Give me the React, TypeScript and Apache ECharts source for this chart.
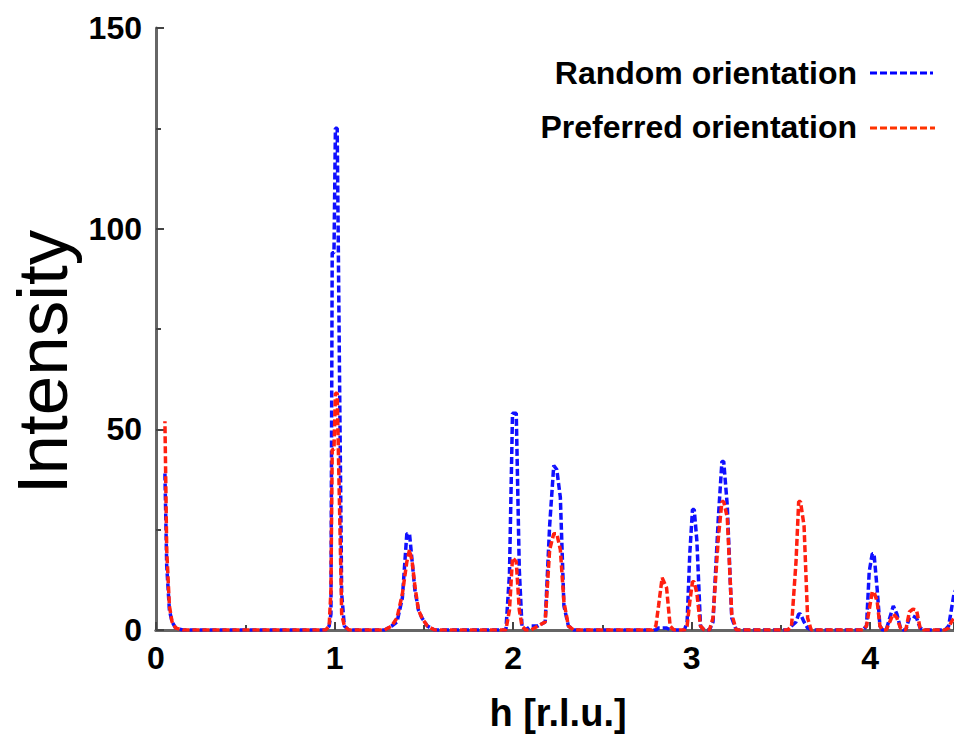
import React, { useEffect, useRef } from "react";
import * as echarts from "echarts";

// h [r.l.u.] sample positions (shared by both series)
const hValues = [
  0.05, 0.06, 0.075, 0.09, 0.11, 0.15,
  0.95, 0.97, 0.98, 0.987, 0.997, 1.005, 1.015, 1.027, 1.04, 1.055, 1.08,
  1.28, 1.32, 1.35, 1.38, 1.405, 1.42, 1.435, 1.45, 1.47, 1.49, 1.52, 1.56,
  1.96, 1.98, 1.997, 2.018, 2.035, 2.05, 2.07, 2.1, 2.14, 2.18, 2.205, 2.228, 2.245, 2.265, 2.285, 2.31, 2.34,
  2.78, 2.8, 2.815, 2.835, 2.86, 2.88, 2.9,
  2.96, 2.975, 2.99, 3.005, 3.015, 3.03, 3.05, 3.07,
  3.1, 3.12, 3.15, 3.17, 3.18, 3.2, 3.225, 3.25,
  3.54, 3.56, 3.585, 3.6, 3.61, 3.63, 3.65, 3.67,
  3.96, 3.98, 3.995, 4.012, 4.022, 4.04, 4.055, 4.07,
  4.09, 4.11, 4.13, 4.15, 4.17, 4.185,
  4.2, 4.22, 4.24, 4.26, 4.28, 4.3,
  4.42, 4.44, 4.455, 4.47, 4.5,
];

const randomIntensity = [
  39, 16, 5, 2, 0.5, 0,
  0, 1, 4, 94, 94, 125, 125, 68, 9, 1, 0,
  0, 1, 2, 8, 24, 24, 17, 10, 5, 3, 1, 0,
  0, 14, 54, 54, 15, 1, 0, 1, 1, 2, 26, 41, 40, 33, 6, 1, 0,
  0, 0, 0.5, 0.5, 0.5, 0, 0,
  0, 2, 19, 30, 30, 22, 1, 0,
  0, 2, 28, 42, 42, 31, 3, 0,
  0, 1, 2, 4, 4, 2, 0.5, 0,
  0, 1, 14.5, 19, 19, 10, 1, 0,
  0, 3, 6, 4, 0.5, 0,
  0, 3, 3.5, 3, 0.5, 0,
  0, 1, 5, 9, 12,
];

const preferredIntensity = [
  52, 20, 6, 2, 0.5, 0,
  0, 1, 10, 45, 45, 59, 59, 33, 4, 1, 0,
  0, 1, 3, 9, 17, 20, 17, 11, 5, 3, 1, 0,
  0, 5, 18, 17, 5, 1, 0, 0, 1, 2, 20, 24, 24, 20, 7, 1, 0,
  0, 1, 6, 13, 10.5, 1, 0,
  0, 1, 7, 12, 12, 9, 1, 0,
  0, 3, 23, 32, 32, 28, 4, 0,
  0, 1, 17, 32, 32, 26, 3, 0,
  0, 1, 5, 9.5, 9.5, 7, 1, 0,
  0, 2, 4, 3, 0.5, 0,
  0, 4.5, 5.2, 5, 0.5, 0,
  0, 0.5, 2, 3, 4,
];

const yTicks = [0, 50, 100, 150];
const xTicks = [0, 1, 2, 3, 4];
const seriesNames = ["Random orientation", "Preferred orientation"];

const FONT = '"Liberation Sans", Arial, sans-serif';

export default function App() {
  const ref = useRef<HTMLDivElement>(null);

  useEffect(() => {
    if (!ref.current) return;
    const chart = echarts.init(ref.current, undefined, { renderer: "svg" });
    const blue = hValues.map((h, i) => [h, randomIntensity[i]]);
    const red = hValues.map((h, i) => [h, preferredIntensity[i]]);
    const axisLineStyle = { color: "#666666", width: 3 };
    chart.setOption({
      animation: false,
      backgroundColor: "#ffffff",
      grid: { left: 156, right: 0, top: 28, bottom: 105, containLabel: false },
      xAxis: [
        {
          type: "value",
          min: xTicks[0],
          max: 4.47,
          interval: 1,
          axisLine: { show: true, onZero: false, lineStyle: axisLineStyle },
          axisTick: { show: true, inside: true, length: 8, lineStyle: { color: "#444", width: 2 } },
          minorTick: { show: true, splitNumber: 2, length: 5, lineStyle: { color: "#444", width: 2 } },
          splitLine: { show: false },
          axisLabel: {
            showMaxLabel: false,
            margin: 12,
            color: "#000",
            fontSize: 32,
            fontWeight: "bold",
            fontFamily: FONT,
          },
        },
        {
          type: "value",
          position: "top",
          min: 0,
          max: 4.47,
          axisLine: { show: true, lineStyle: axisLineStyle },
          axisTick: { show: false },
          axisLabel: { show: false },
          splitLine: { show: false },
        },
      ],
      yAxis: {
        type: "value",
        min: yTicks[0],
        max: yTicks[yTicks.length - 1],
        interval: 50,
        axisLine: { show: true, lineStyle: axisLineStyle },
        axisTick: { show: true, inside: true, length: 8, lineStyle: { color: "#444", width: 2 } },
        minorTick: { show: true, splitNumber: 2, length: 5, lineStyle: { color: "#444", width: 2 } },
        splitLine: { show: false },
        axisLabel: {
          margin: 14,
          color: "#000",
          fontSize: 32,
          fontWeight: "bold",
          fontFamily: FONT,
        },
      },
      series: [
        {
          name: seriesNames[0],
          type: "line",
          data: blue,
          showSymbol: false,
          symbol: "none",
          lineStyle: { color: "#1010ff", width: 3.5, type: [7, 3] },
          z: 2,
        },
        {
          name: seriesNames[1],
          type: "line",
          data: red,
          showSymbol: false,
          symbol: "none",
          lineStyle: { color: "#ff2010", width: 3.5, type: [7, 3], dashOffset: 5 },
          z: 3,
        },
      ],
      graphic: [
        {
          type: "text",
          x: 42,
          y: 362,
          rotation: Math.PI / 2,
          style: {
            text: "Intensity",
            font: `71px ${FONT}`,
            fill: "#000",
            textAlign: "center",
            textVerticalAlign: "middle",
          },
        },
        {
          type: "text",
          x: 558,
          y: 713,
          style: {
            text: "h [r.l.u.]",
            font: `bold 38px ${FONT}`,
            fill: "#000",
            textAlign: "center",
            textVerticalAlign: "middle",
          },
        },
        {
          type: "text",
          x: 857,
          y: 73,
          style: {
            text: seriesNames[0],
            font: `bold 32px ${FONT}`,
            fill: "#000",
            textAlign: "right",
            textVerticalAlign: "middle",
          },
        },
        {
          type: "line",
          shape: { x1: 870, y1: 73, x2: 933, y2: 73 },
          style: { stroke: "#0000ff", lineWidth: 3, lineDash: [7, 3] },
        },
        {
          type: "text",
          x: 857,
          y: 127,
          style: {
            text: seriesNames[1],
            font: `bold 32px ${FONT}`,
            fill: "#000",
            textAlign: "right",
            textVerticalAlign: "middle",
          },
        },
        {
          type: "line",
          shape: { x1: 870, y1: 128, x2: 935, y2: 128 },
          style: { stroke: "#ff3300", lineWidth: 3, lineDash: [7, 3] },
        },
      ],
    });
    return () => chart.dispose();
  }, []);

  return (
    <div
      ref={ref}
      style={{ position: "fixed", left: 0, top: 0, width: 954, height: 735 }}
    />
  );
}
